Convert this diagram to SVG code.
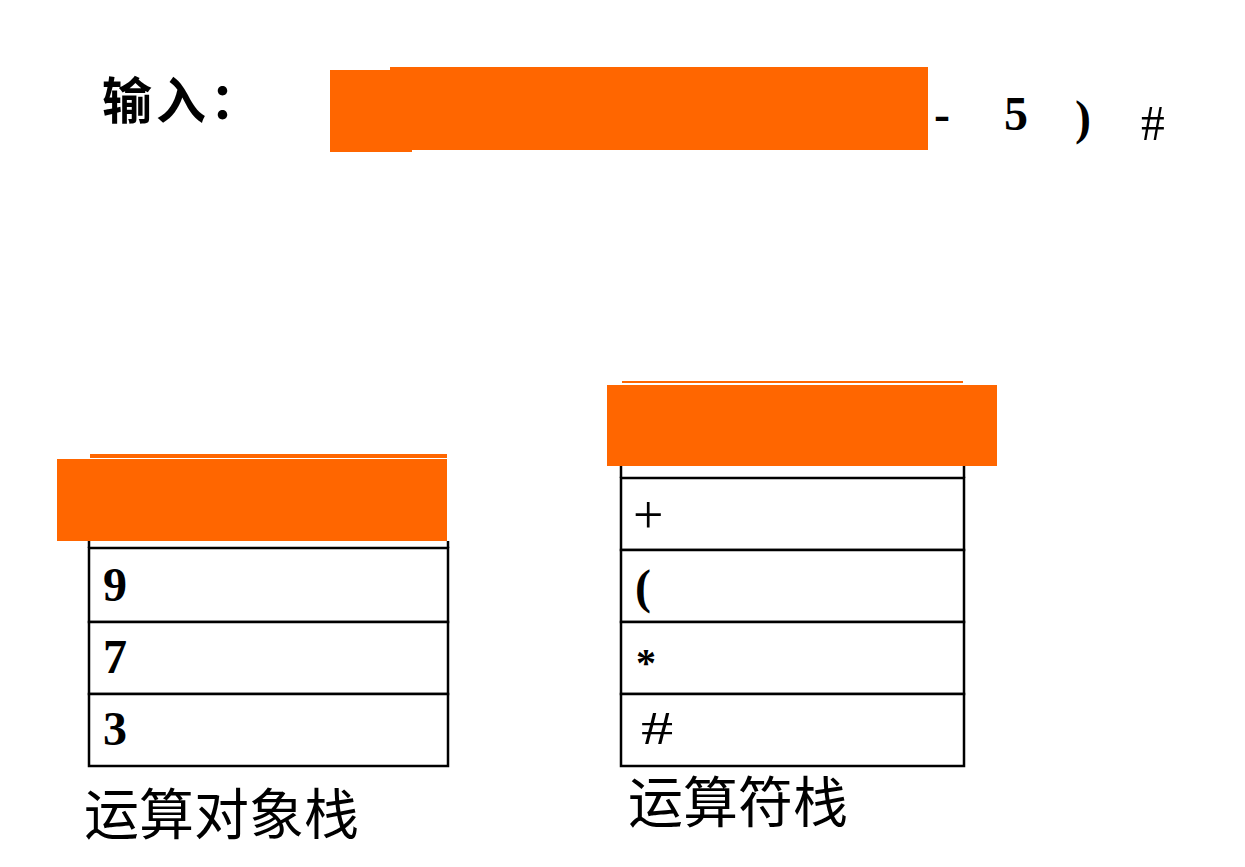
<svg xmlns="http://www.w3.org/2000/svg" width="1245" height="867" viewBox="0 0 1245 867">
<style>
.cell{fill:#fff;stroke:#000;stroke-width:2.5}
.edge{stroke:#000;stroke-width:2.5}
.mask{fill:#ff6600}
.t{font-family:"Liberation Serif","Times New Roman",serif;fill:#000}
.b{font-weight:bold}
.cjk{font-family:"Noto Sans CJK SC",sans-serif;fill:#000}
</style>
<rect width="1245" height="867" fill="#fff"/>
<g id="input">
<text class="cjk" x="102" y="119" font-size="50" font-weight="bold" letter-spacing="4">输入：</text>
<rect class="mask" x="330" y="70" width="82" height="82"/>
<rect class="mask" x="390" y="67" width="538" height="83"/>
<text class="t b" x="934" y="130" font-size="48">-</text>
<text class="t b" x="1004" y="130" font-size="48">5</text>
<text class="t b" x="1075" y="134" font-size="48">)</text>
<text class="t" x="0" y="0" font-size="50" transform="translate(1141,140) scale(0.95,1)">#</text>
</g>
<g id="operand-stack">
<line class="edge" x1="89" y1="541" x2="89" y2="548"/>
<line class="edge" x1="448" y1="541" x2="448" y2="548"/>
<rect class="cell" x="89" y="548" width="359" height="74"/>
<rect class="cell" x="89" y="622" width="359" height="72"/>
<rect class="cell" x="89" y="694" width="359" height="72"/>
<text class="t b" x="103" y="601" font-size="48">9</text>
<text class="t b" x="103" y="673" font-size="48">7</text>
<text class="t b" x="103" y="745" font-size="48">3</text>
<rect class="mask" x="90" y="454" width="357" height="4"/>
<rect class="mask" x="57" y="459" width="390" height="82"/>
<text class="cjk" x="84" y="834" font-size="55">运算对象栈</text>
</g>
<g id="operator-stack">
<line class="edge" x1="621" y1="466" x2="621" y2="478"/>
<line class="edge" x1="964" y1="466" x2="964" y2="478"/>
<rect class="cell" x="621" y="478" width="343" height="72"/>
<rect class="cell" x="621" y="550" width="343" height="72"/>
<rect class="cell" x="621" y="622" width="343" height="72"/>
<rect class="cell" x="621" y="694" width="343" height="72"/>
<text class="t" x="633" y="533" font-size="54">+</text>
<text class="t b" x="635" y="603" font-size="48">(</text>
<text class="t b" x="636" y="676" font-size="40">*</text>
<text class="t" x="0" y="0" font-size="46" transform="translate(641,744) scale(1.4,1)">#</text>
<rect class="mask" x="622" y="381" width="341" height="2"/>
<rect class="mask" x="607" y="385" width="390" height="81"/>
<text class="cjk" x="628" y="822" font-size="55">运算符栈</text>
</g>
<g id="connectors"></g>
</svg>
